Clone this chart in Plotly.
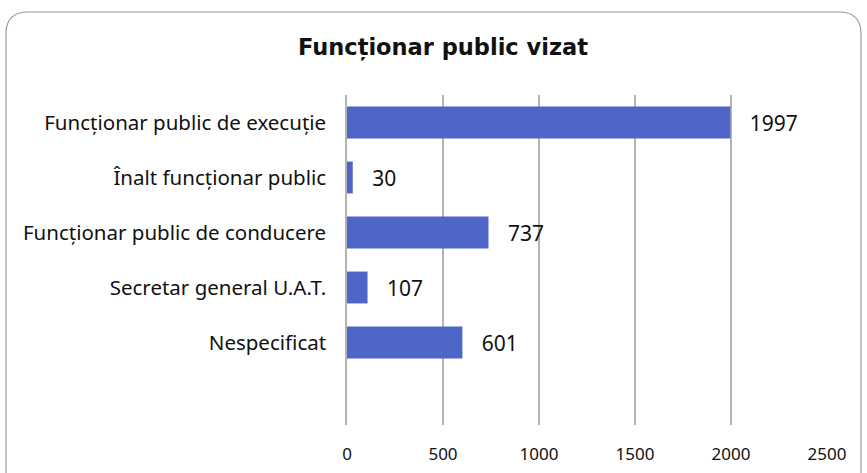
import plotly.graph_objects as go

categories = ["Funcționar public de execuție", "Înalt funcționar public",
              "Funcționar public de conducere", "Secretar general U.A.T.", "Nespecificat"]
values = [1997, 30, 737, 107, 601]
tick_vals = [0, 500, 1000, 1500, 2000, 2500]
title_text = "Funcționar public vizat"

W, H = 867, 473
L, R, T, B = 347, 40, 95, 48
pw, ph = W - L - R, H - T - B

def px(x):
    return (x - L) / pw

def py(y):
    return (H - B - y) / ph

fig = go.Figure()
fig.add_trace(go.Bar(
    y=list(range(len(categories))), x=values, orientation="h",
    marker=dict(color="#4F66C9", line=dict(width=0)),
    width=0.58,
    text=values, texttemplate="   %{x}", textposition="outside",
    textfont=dict(family="Noto Sans", size=21, color="#111111"),
    cliponaxis=False, hoverinfo="skip",
))

# rounded outer frame
x0, x1, y0, y1, r = 6, 861, 12, 490, 22
path = (f"M {px(x0)},{py(y1)} L {px(x0)},{py(y0 + r)} "
        f"Q {px(x0)},{py(y0)} {px(x0 + r)},{py(y0)} "
        f"L {px(x1 - r)},{py(y0)} Q {px(x1)},{py(y0)} {px(x1)},{py(y0 + r)} "
        f"L {px(x1)},{py(y1)}")
fig.add_shape(type="path", path=path, xref="paper", yref="paper",
              line=dict(color="#9A9A9A", width=1.2), layer="below")

fig.update_layout(
    width=W, height=H,
    margin=dict(l=L, r=R, t=T, b=B, autoexpand=False),
    paper_bgcolor="white", plot_bgcolor="white",
    showlegend=False,
    title=dict(text=f"<b>{title_text}</b>", x=443 / W, xanchor="center",
               xref="container", yref="container",
               y=1 - 47 / H, yanchor="middle",
               font=dict(family="DejaVu Sans", size=22.5, color="#111111")),
    xaxis=dict(range=[0, 2500], tickvals=tick_vals, showgrid=True, automargin=False,
               gridcolor="#B3B3B3", gridwidth=1.5, zeroline=False,
               showline=False, ticks="outside", ticklen=14, tickcolor="rgba(0,0,0,0)",
               tickfont=dict(family="Noto Sans", size=17, color="#111111")),
    yaxis=dict(range=[5.5, -0.5], tickvals=list(range(len(categories))),
               ticktext=categories, showgrid=False, zeroline=False, automargin=False,
               showline=True, linecolor="#B3B3B3", linewidth=1.5,
               ticks="outside", ticklen=15, tickcolor="rgba(0,0,0,0)",
               tickfont=dict(family="Noto Sans", size=20.5, color="#111111")),
)

fig.write_html("out.html", config={"displayModeBar": False},
               post_script="document.body.style.margin='0';document.body.style.overflow='hidden';")
